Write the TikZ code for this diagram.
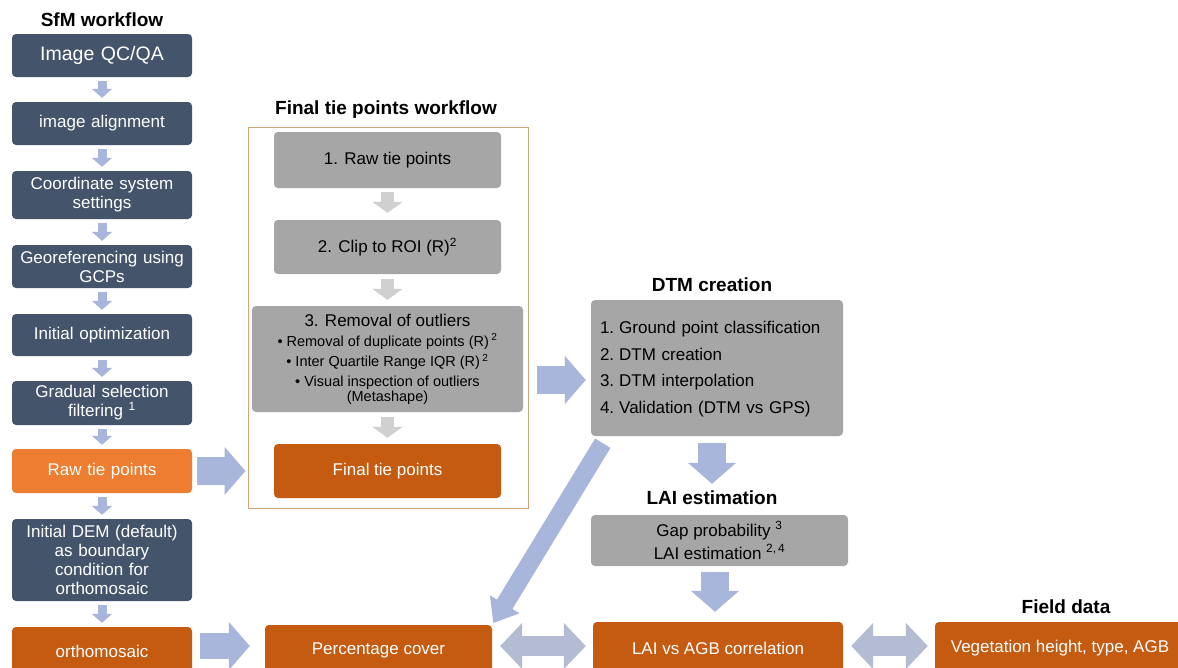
\documentclass[tikz,border=0pt]{standalone}
\usepackage{fontspec}
\setmainfont{Liberation Sans}
\usetikzlibrary{arrows.meta}
\definecolor{slate}{HTML}{44546A}
\definecolor{orangeA}{HTML}{ED7D31}
\definecolor{orangeB}{HTML}{C55A11}
\definecolor{greybox}{HTML}{A6A6A6}
\definecolor{arrowblue}{HTML}{A9B6DB}
\definecolor{arrowgrey}{HTML}{D0D0D0}
\definecolor{frameC}{HTML}{D2A679}
\definecolor{dblarrow}{HTML}{B4BCD4}
\newcommand{\fs}[2]{\fontsize{#1}{#2}\selectfont}
\begin{document}
\begin{tikzpicture}[x=1pt,y=-1pt,
  box/.style={rounded corners=4pt, align=center, inner sep=2pt, font=\fs{17}{19}},
  sfm/.style={box, fill=slate, text=white, minimum width=180pt, text width=176pt},
  grey/.style={box, fill=greybox, text=black},
  org/.style={box, fill=orangeB, text=white},
  ttl/.style={font=\bfseries\fs{19}{21}},
  sarrow/.style={draw=arrowblue, line width=9pt, -{Triangle[length=9pt,width=20pt]}, shorten <=4pt, shorten >=4pt},
  garrow/.style={draw=arrowgrey, line width=13pt, -{Triangle[length=11pt,width=30pt]}},
  barrow/.style={draw=arrowblue, line width=28pt, -{Triangle[length=21pt,width=47pt]}},
  darrow/.style={draw=dblarrow, line width=20pt, {Triangle[length=22pt,width=45pt]}-{Triangle[length=22pt,width=45pt]}, shorten <=8pt, shorten >=7pt},
]
\useasboundingbox (0,0) rectangle (1178,667);
\clip (0,0) rectangle (1178,667);
\fill[white] (0,0) rectangle (1178,667);

% SfM column
\node[ttl] (sfmt) at (102,20) {SfM workflow};
\node[sfm, minimum height=43pt, font=\fs{19.5}{21}] (qc) at (102,55.5) {Image QC/QA};
\node[sfm, minimum height=43pt] (align) at (102,123.5) {image alignment};
\node[sfm, minimum height=48pt] (coord) at (102,195) {Coordinate system\\settings};
\node[sfm, minimum height=43pt] (geo) at (102,266.5) {Georeferencing using\\GCPs};
\node[sfm, minimum height=42pt] (iopt) at (102,335) {Initial optimization};
\node[sfm, minimum height=44pt] (grad) at (102,403) {Gradual selection\\filtering \textsuperscript{1}};
\node[sfm, fill=orangeA, minimum height=44pt] (raw) at (102,471) {Raw tie points};
\node[sfm, minimum height=82pt] (dem) at (102,560) {Initial DEM (default)\\as boundary\\condition for\\orthomosaic};
\node[sfm, fill=orangeB, minimum height=48pt] (ortho) at (102,651) {orthomosaic};

\draw[sarrow] (qc) -- (align);
\draw[sarrow] (align) -- (coord);
\draw[sarrow] (coord) -- (geo);
\draw[sarrow] (geo) -- (iopt);
\draw[sarrow] (iopt) -- (grad);
\draw[sarrow] (grad) -- (raw);
\draw[sarrow] (raw) -- (dem);
\draw[sarrow] (dem) -- (ortho);

% Final tie points workflow
\node[ttl] (ftt) at (386,110) {Final tie points workflow};
\node[draw=frameC, line width=1pt, minimum width=280pt, minimum height=381pt, inner sep=0pt] (frame) at (388,317.5) {};
\node[grey, minimum width=227pt, minimum height=56pt] (r1) at (387.5,160) {1. Raw tie points};
\node[grey, minimum width=227pt, minimum height=54pt] (r2) at (387.5,247) {2. Clip to ROI (R)\textsuperscript{2}};
\node[grey, minimum width=271pt, minimum height=106pt, font=\fs{14.5}{15}] (r3) at (387.5,359)
  {{\fs{17}{19}3. Removal of outliers}\\[5pt]
   \textbullet\ Removal of duplicate points (R)\,\textsuperscript{2}\\[4pt]
   \textbullet\ Inter Quartile Range IQR (R)\,\textsuperscript{2}\\[5pt]
   \textbullet\ Visual inspection of outliers\\[0pt]
   (Metashape)};
\node[org, minimum width=227pt, minimum height=54pt] (fin) at (387.5,471) {Final tie points};

\draw[garrow, shorten <=4pt, shorten >=7pt] (r1) -- (r2);
\draw[garrow, shorten <=5pt, shorten >=6pt] (r2) -- (r3);
\draw[garrow, shorten <=5pt, shorten >=6pt] (r3) -- (fin);

\draw[barrow, shorten <=5pt, shorten >=2pt] (raw.east) -- (frame.west |- raw.east);

% DTM creation
\node[ttl] (dtmt) at (712,285) {DTM creation};
\node[grey, minimum width=252pt, minimum height=136pt, font=\fs{17}{19}, align=left, inner xsep=9pt, text width=234pt] (dtm) at (717,368)
  {\renewcommand{\arraystretch}{1.4}%
   \begin{tabular}{@{}l@{\hspace{5pt}}l@{}}
   1. & Ground point classification\\
   2. & DTM creation\\
   3. & DTM interpolation\\
   4. & Validation (DTM vs GPS)
   \end{tabular}};
\draw[barrow, shorten <=14pt, shorten >=5pt] (r3.east |- 0,380) -- (dtm.west |- 0,380);

% LAI estimation
\node[ttl] (lait) at (712,498) {LAI estimation};
\node[grey, minimum width=257pt, minimum height=51pt] (lai) at (719.5,540.5)
  {Gap probability \textsuperscript{3}\\[4pt] LAI estimation \textsuperscript{2,\,4}};
\draw[barrow, shorten <=7pt, shorten >=31pt] (dtm.south -| 712,0) -- (lai.north -| 712,0);

% Bottom row
\node[org, minimum width=227pt, minimum height=50pt] (pc) at (378.5,650) {Percentage cover};
\node[org, minimum width=250pt, minimum height=53pt] (lavg) at (718,648.5) {LAI vs AGB correlation};
\node[ttl] (fieldt) at (1066,607) {Field data};
\node[org, minimum width=250pt, minimum height=53pt] (veg) at (1060,648.5) {Vegetation height, type, AGB};

\draw[barrow, line width=26pt, shorten <=8pt, shorten >=15pt] (ortho.east |- 0,646) -- (pc.west |- 0,646);
\draw[barrow, shorten <=6pt, shorten >=10pt] (lai.south -| 715,0) -- (lavg.north -| 715,0);
\draw[draw=arrowblue, line width=18pt, -{Triangle[length=22pt,width=33pt]}, shorten >=2pt]
  ([xshift=12pt,yshift=-7pt]dtm.south west) -- (pc.north east);
\draw[darrow] (pc.east |- 0,646) -- (lavg.west |- 0,646);
\draw[darrow] (lavg.east |- 0,646) -- (veg.west |- 0,646);
\end{tikzpicture}
\end{document}
